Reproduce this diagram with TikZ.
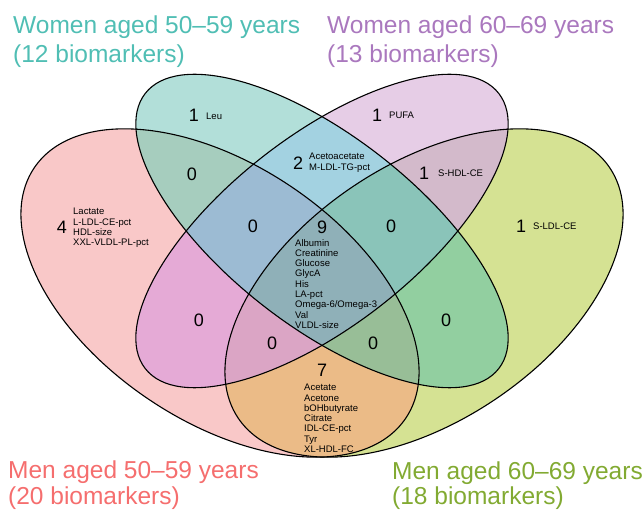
\documentclass[tikz,border=0pt]{standalone}
\usepackage{fontspec}
\setmainfont{Liberation Sans}
\definecolor{cT}{HTML}{B2DFD9}
\definecolor{cP}{HTML}{E6CDE6}
\definecolor{cK}{HTML}{F9C8C8}
\definecolor{cG}{HTML}{D5E293}
\definecolor{cTP}{HTML}{A3D2E1}
\definecolor{cTK}{HTML}{A6CDBE}
\definecolor{cTG}{HTML}{92CFA0}
\definecolor{cPK}{HTML}{E5AAD6}
\definecolor{cPG}{HTML}{D3BACB}
\definecolor{cKG}{HTML}{EBBB87}
\definecolor{cTPK}{HTML}{9CBBD3}
\definecolor{cTPG}{HTML}{8AC4B9}
\definecolor{cTKG}{HTML}{98BE97}
\definecolor{cPKG}{HTML}{DBA5C5}
\definecolor{cAll}{HTML}{8FB0B8}
\definecolor{tT}{HTML}{50BEB4}
\definecolor{tP}{HTML}{AA78BE}
\definecolor{tK}{HTML}{F56E6E}
\definecolor{tG}{HTML}{82AA32}
\newcommand\ellT[1]{\path[#1,rotate around={-37.9:(322,280)}] (322,280) ellipse [x radius=224pt, y radius=95pt];}
\newcommand\ellP[1]{\path[#1,rotate around={37.9:(322,280)}] (322,280) ellipse [x radius=224pt, y radius=95pt];}
\newcommand\ellK[1]{\path[#1,rotate around={-34:(220,218)}] (220,218) ellipse [x radius=224pt, y radius=128pt];}
\newcommand\ellG[1]{\path[#1,rotate around={34:(424,218)}] (424,218) ellipse [x radius=224pt, y radius=128pt];}
\begin{document}
\begin{tikzpicture}[x=1pt,y=1pt,
  title/.style={inner sep=0, anchor=base west, font=\fontsize{24.5}{29}\selectfont},
  num/.style={inner sep=0, font=\fontsize{18}{20}\selectfont},
  lbl/.style={inner sep=0, anchor=west, font=\fontsize{9.5}{10.3}\selectfont},
  lst/.style={inner sep=0, anchor=north west, align=left, font=\fontsize{9.5}{10.3}\selectfont},
  outline/.style={draw=black, line width=1.1pt}]
\useasboundingbox (0,0) rectangle (644,511);
% single sets
\ellT{fill=cT}
\ellP{fill=cP}
\ellK{fill=cK}
\ellG{fill=cG}
% pairs
\begin{scope}\ellT{clip}\ellP{fill=cTP}\end{scope}
\begin{scope}\ellT{clip}\ellK{fill=cTK}\end{scope}
\begin{scope}\ellT{clip}\ellG{fill=cTG}\end{scope}
\begin{scope}\ellP{clip}\ellK{fill=cPK}\end{scope}
\begin{scope}\ellP{clip}\ellG{fill=cPG}\end{scope}
\begin{scope}\ellK{clip}\ellG{fill=cKG}\end{scope}
% triples
\begin{scope}\ellT{clip}\ellP{clip}\ellK{fill=cTPK}\end{scope}
\begin{scope}\ellT{clip}\ellP{clip}\ellG{fill=cTPG}\end{scope}
\begin{scope}\ellT{clip}\ellK{clip}\ellG{fill=cTKG}\end{scope}
\begin{scope}\ellP{clip}\ellK{clip}\ellG{fill=cPKG}\end{scope}
% all four
\begin{scope}\ellT{clip}\ellP{clip}\ellK{clip}\ellG{fill=cAll}\end{scope}
% outlines
\ellK{outline}
\ellG{outline}
\ellT{outline}
\ellP{outline}
% titles
\node[title, text=tT] (t1a) at (13,477) {Women aged 50--59 years};
\node[title, text=tT] (t1b) at (13,448) {(12 biomarkers)};
\node[title, text=tP] (t2a) at (327,477) {Women aged 60--69 years};
\node[title, text=tP] (t2b) at (327,448) {(13 biomarkers)};
\node[title, text=tK] (t3a) at (8,33) {Men aged 50--59 years};
\node[title, text=tK] (t3b) at (8,7) {(20 biomarkers)};
\node[title, text=tG] (t4a) at (392,32) {Men aged 60--69 years};
\node[title, text=tG] (t4b) at (392,7) {(18 biomarkers)};
% counts
\node[num] (n1) at (194,396) {1};
\node[num] (n2) at (377,396) {1};
\node[num] (n3) at (298,348) {2};
\node[num] (n4) at (192,337) {0};
\node[num] (n5) at (424,338) {1};
\node[num] (n6) at (62,284) {4};
\node[num] (n7) at (521,285) {1};
\node[num] (n8) at (253,285) {0};
\node[num] (n9) at (391,285) {0};
\node[num] (n10) at (322,284) {9};
\node[num] (n11) at (199,191) {0};
\node[num] (n12) at (446,191) {0};
\node[num] (n13) at (272,168) {0};
\node[num] (n14) at (373,168) {0};
\node[num] (n15) at (322,141) {7};
% biomarker labels
\node[lbl] (l1) at (206,395) {Leu};
\node[lbl] (l2) at (389,396) {PUFA};
\node[lbl] (l5) at (438,338) {S-HDL-CE};
\node[lbl] (l7) at (533,285) {S-LDL-CE};
\node[lst] (l3) at (309,358) {Acetoacetate\\M-LDL-TG-pct};
\node[lst] (l6) at (73,303) {Lactate\\L-LDL-CE-pct\\HDL-size\\XXL-VLDL-PL-pct};
\node[lst] (l10) at (295,272) {Albumin\\Creatinine\\Glucose\\GlycA\\His\\LA-pct\\Omega-6/Omega-3\\Val\\VLDL-size};
\node[lst] (l15) at (304,127) {Acetate\\Acetone\\bOHbutyrate\\Citrate\\IDL-CE-pct\\Tyr\\XL-HDL-FC};
\end{tikzpicture}
\end{document}
